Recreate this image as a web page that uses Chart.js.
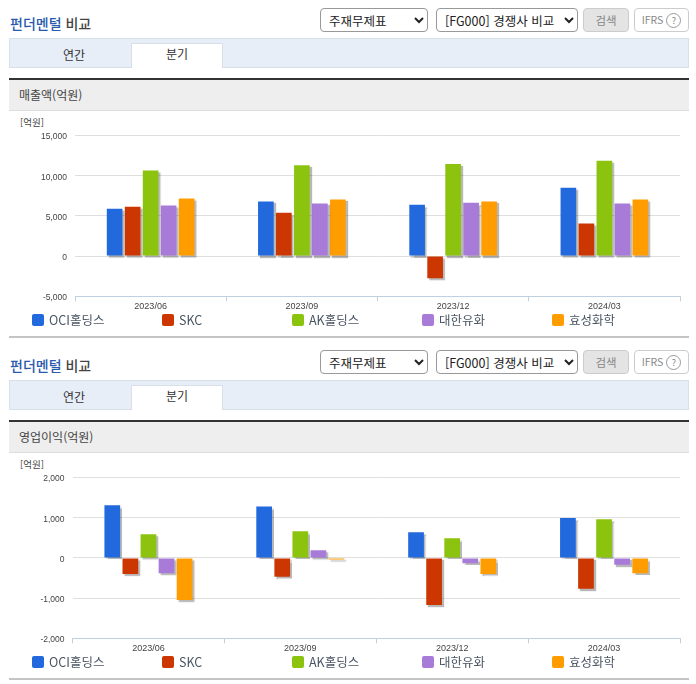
<!DOCTYPE html>
<html lang="ko"><head><meta charset="utf-8">
<script src="https://cdn.jsdelivr.net/npm/chart.js@4"></script>
<style>
html,body{margin:0;padding:0;background:#fff;overflow:hidden}
body{width:696px;height:684px;position:relative;font-family:"Noto Sans CJK KR","Noto Sans",sans-serif;color:#333}
.a{position:absolute;box-sizing:border-box}
.title{left:10px;font-size:14px;font-weight:500;line-height:20px;color:#444}
.title b{font-weight:500;color:#2a5aad}
select{position:absolute;box-sizing:border-box;height:24px;font:12.5px "Noto Sans CJK KR",sans-serif;background:#fff;border:1px solid #999;border-radius:4px;color:#222;padding:0 0 0 4px}
.btn{height:24px;border-radius:4px;font-size:11.5px;line-height:22px;text-align:center}
.bar{left:9px;width:680px;height:30px;background:#e7eef8;border:1px solid #d8e0ea}
.tab{height:25px;background:#fff;border:1px solid #d8e0ea;border-bottom:0;width:92px;left:131px;text-align:center;font-size:12px;line-height:20px}
.tab0{left:29px;width:90px;text-align:center;font-size:12px;line-height:20px}
.band{left:9px;width:680px;height:33px;background:#eee;border-top:2px solid #333;border-bottom:1px solid #ddd;font-size:12px;line-height:30px;padding-left:10px;color:#444}
.unit{left:20px;font:9.5px "Noto Sans CJK KR",sans-serif;color:#444;line-height:12px}
.end{left:9px;width:680px;height:2px;background:#c4c4c4}
.lg{display:block;width:12px;height:12px;border-radius:2px}
.lt{font-size:12.5px;line-height:14px;color:#4a5563;white-space:nowrap}
canvas{position:absolute;left:10px;width:680px;height:202px}
</style></head><body>
<div id="page"></div>
<script>
const categories = ["2023/06","2023/09","2023/12","2024/03"];
const seriesNames = ["OCI홀딩스","SKC","AK홀딩스","대한유화","효성화학"];
const seriesColors = ["#2269dd","#cc3600","#8cc30f","#a87bd8","#ff9c00"];

const revenueOCI = [5900,6800,6400,8500];
const revenueSKC = [6150,5400,-2750,4050];
const revenueAK = [10650,11300,11450,11850];
const revenueDH = [6300,6550,6650,6550];
const revenueHS = [7150,7050,6800,7050];

const profitOCI = [1310,1280,640,990];
const profitSKC = [-400,-470,-1170,-770];
const profitAK = [590,660,490,960];
const profitDH = [-380,190,-130,-170];
const profitHS = [-1050,-40,-400,-380];

const revenueTicks = [-5000,0,5000,10000,15000];
const profitTicks = [-2000,-1000,0,1000,2000];
const legendLeft = [32,162,292,422,552];

const page = document.getElementById('page');
function el(cls, style, html){
  const d=document.createElement('div');d.className='a '+cls;
  Object.assign(d.style,style);if(html!=null)d.innerHTML=html;page.appendChild(d);return d;
}
const px=n=>n+'px';
const barShadow={id:'barShadow',
  beforeDatasetDraw(c){const x=c.ctx;x.save();x.shadowColor='rgba(0,0,0,0.28)';x.shadowBlur=1;x.shadowOffsetX=2;x.shadowOffsetY=2;},
  afterDatasetDraw(c){c.ctx.restore();}};

function section(off, label, series, ticks, plotLeft){
  el('title',{top:px(13+off)},'<b>펀더멘털</b> 비교');
  const s1=document.createElement('select');s1.style.cssText=`left:320px;top:${8+off}px;width:108px`;
  s1.innerHTML='<option>주재무제표</option>';page.appendChild(s1);
  const s2=document.createElement('select');s2.style.cssText=`left:436px;top:${8+off}px;width:142px`;
  s2.innerHTML='<option>[FG000] 경쟁사 비교</option>';page.appendChild(s2);
  el('btn',{left:'583px',top:px(8+off),width:'46px',background:'#e4e4e4',border:'1px solid #ccc',color:'#888'},'검색');
  el('btn',{left:'634px',top:px(8+off),width:'55px',background:'#fff',border:'1px solid #ccc',color:'#888',fontSize:'10.5px'},'IFRS <span style="display:inline-block;width:13px;height:13px;border:1px solid #999;border-radius:50%;line-height:13px;font-size:9px">?</span>');
  el('bar',{top:px(38+off)});
  el('tab0',{top:px(45+off)},'연간');
  el('tab',{top:px(43+off)},'분기');
  el('band',{top:px(78+off)},label);
  el('unit',{top:px(116+off)},'[억원]');
  const cv=document.createElement('canvas');cv.style.top=px(112+off);cv.width=680;cv.height=202;page.appendChild(cv);
  new Chart(cv,{type:'bar',
    data:{labels:categories,datasets:series.map((d,i)=>({label:seriesNames[i],data:d,backgroundColor:seriesColors[i],categoryPercentage:0.595,barPercentage:0.87}))},
    plugins:[barShadow],
    options:{responsive:false,animation:false,devicePixelRatio:1,
      layout:{padding:{left:0,right:10,top:23.5,bottom:0}},
      plugins:{legend:{display:false},tooltip:{enabled:false}},
      scales:{
        x:{grid:{drawOnChartArea:false,drawTicks:true,tickLength:5,color:'#c0d0e0'},border:{color:'#c0d0e0'},
           ticks:{padding:0,color:'#444',font:{family:'"Liberation Sans"',size:9},maxRotation:0},
           afterFit(a){a.height=17.7;}},
        y:{min:ticks[0],max:ticks[ticks.length-1],
           afterBuildTicks(a){a.ticks=ticks.map(v=>({value:v}));},
           grid:{color:'#dfdfdf',drawTicks:false},border:{display:false},
           ticks:{padding:8,labelOffset:1.5,color:'#444',font:{family:'"Liberation Sans"',size:8.5},callback:v=>v.toLocaleString('en-US')},
           afterFit(a){a.width=plotLeft-10;}}
      }}});
  seriesNames.forEach((n,i)=>{
    el('lg',{left:px(legendLeft[i]),top:px(314+off),background:seriesColors[i]});
    el('lt',{left:px(legendLeft[i]+17),top:px(313+off)},n);
  });
  el('end',{top:px(336+off)});
}
section(0,'매출액(억원)',[revenueOCI,revenueSKC,revenueAK,revenueDH,revenueHS],revenueTicks,75);
section(342,'영업이익(억원)',[profitOCI,profitSKC,profitAK,profitDH,profitHS],profitTicks,72.5);
</script>
</body></html>
